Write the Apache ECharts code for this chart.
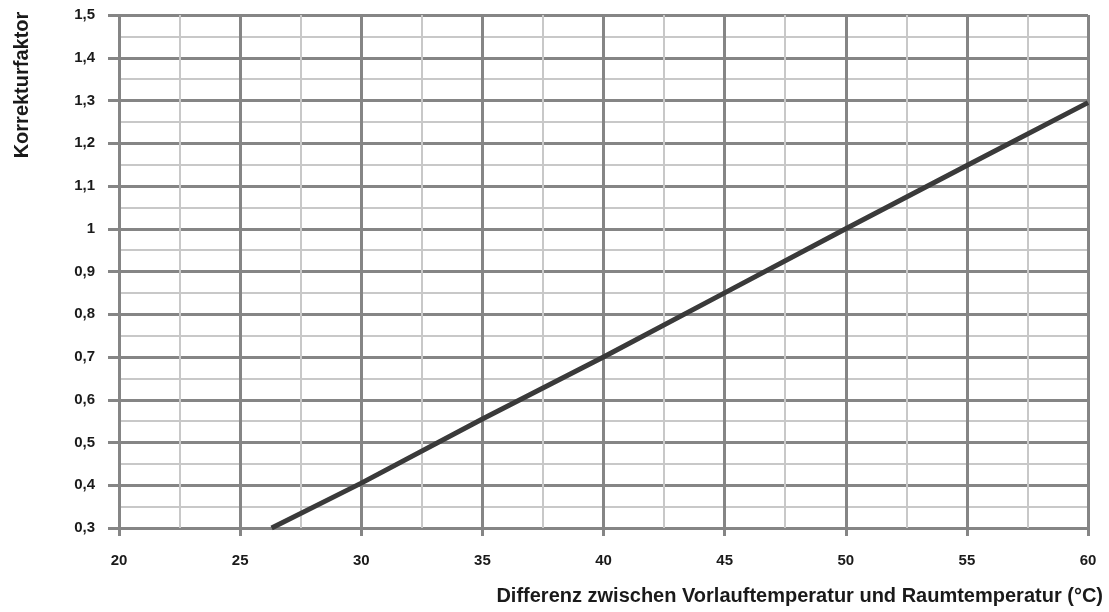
<!DOCTYPE html>
<html>
<head>
<meta charset="utf-8">
<script src="https://cdn.jsdelivr.net/npm/echarts@6/dist/echarts.min.js"></script>
<style>
  html, body { margin: 0; padding: 0; background: #fff; }
  #chart { width: 1109px; height: 612px; }
</style>
</head>
<body>
<div id="chart"></div>
<script>
// Temperaturdifferenz (°C) und Korrekturfaktor
const tempDiff = [26.3, 30, 35, 40, 45, 50, 55, 60]
const faktor = [0.3, 0.405, 0.555, 0.70, 0.85, 1.0, 1.148, 1.295]

const xTitle = 'Differenz zwischen Vorlauftemperatur und Raumtemperatur (°C)'
const yTitle = 'Korrekturfaktor'

const font = '"Liberation Sans Narrow", "Liberation Sans", Arial, sans-serif'
const major = '#858585'
const minor = '#c8c8c8'

const chart = echarts.init(document.getElementById('chart'))

const option = {
  animation: false,
  grid: { left: 119, right: 21, top: 15, bottom: 84 },
  xAxis: {
    type: 'value',
    min: 20,
    max: 60,
    interval: 5,
    axisLine: { show: false },
    axisTick: { show: true, length: 8, lineStyle: { color: major, width: 3 } },
    axisLabel: {
      margin: 25,
      color: '#1a1a1a',
      fontFamily: font,
      fontWeight: 'bold',
      fontSize: 15
    },
    splitLine: { show: true, lineStyle: { color: major, width: 3 } },
    minorTick: { show: false, splitNumber: 2 },
    minorSplitLine: { show: true, lineStyle: { color: minor, width: 2 } }
  },
  yAxis: {
    type: 'value',
    min: 0.3,
    max: 1.5,
    interval: 0.1,
    axisLine: { show: false },
    axisTick: { show: true, length: 11, lineStyle: { color: major, width: 3 } },
    axisLabel: {
      margin: 24,
      color: '#1a1a1a',
      fontFamily: font,
      fontWeight: 'bold',
      fontSize: 15,
      formatter: v => String(Math.round(v * 10) / 10).replace('.', ',')
    },
    splitLine: { show: true, lineStyle: { color: major, width: 3 } },
    minorTick: { show: false, splitNumber: 2 },
    minorSplitLine: { show: true, lineStyle: { color: minor, width: 2 } }
  },
  graphic: [
    {
      type: 'text',
      right: 6,
      top: 586,
      style: {
        text: xTitle,
        fill: '#1a1a1a',
        font: 'bold 20px ' + font
      }
    },
    {
      type: 'text',
      x: 22,
      y: 85,
      rotation: Math.PI / 2,
      style: {
        text: yTitle,
        fill: '#1a1a1a',
        font: 'bold 20px ' + font,
        align: 'center',
        verticalAlign: 'middle'
      }
    }
  ],
  series: [
    {
      type: 'line',
      data: tempDiff.map((t, i) => [t, faktor[i]]),
      symbol: 'none',
      lineStyle: { color: '#3a3a3a', width: 5 },
      z: 5
    }
  ]
}

chart.setOption(option)
</script>
</body>
</html>
